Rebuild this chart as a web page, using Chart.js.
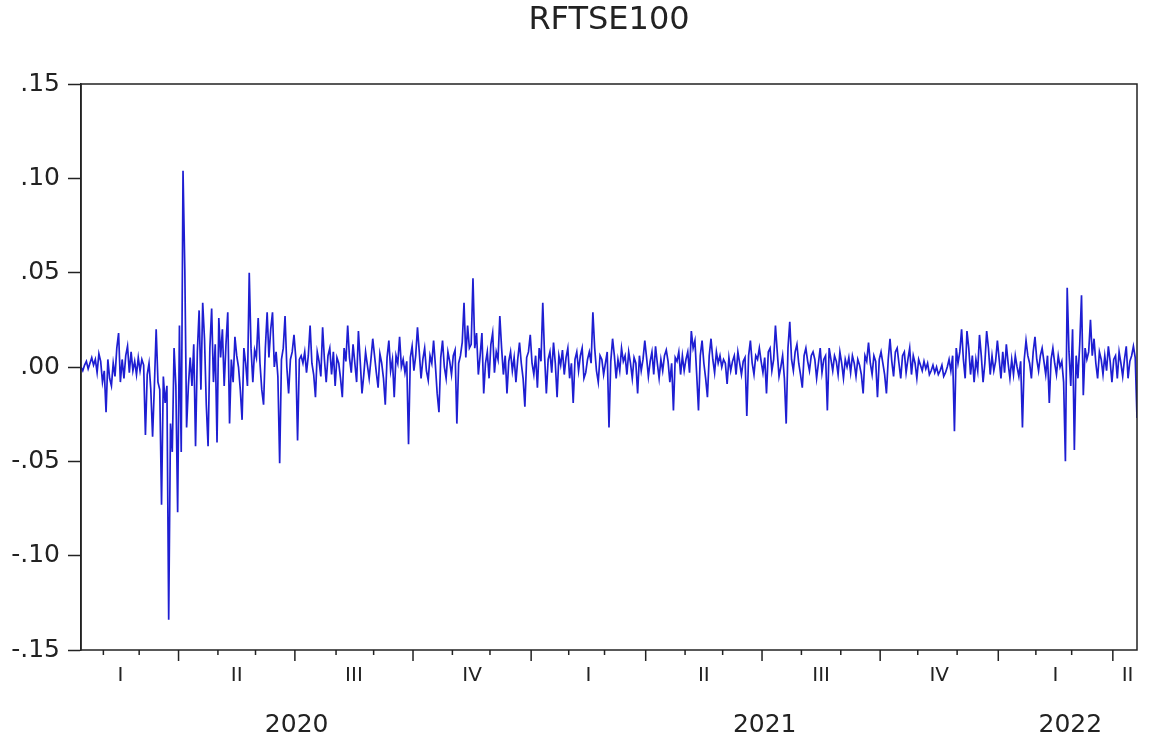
<!DOCTYPE html>
<html>
<head>
<meta charset="utf-8">
<title>RFTSE100</title>
<script src="https://cdn.jsdelivr.net/npm/chart.js@4/dist/chart.umd.min.js"></script>
<style>
  body { margin: 0; background: #fff; }
  #wrap { width: 1149px; height: 742px; }
</style>
</head>
<body>
<div id="wrap"><canvas id="rftse-chart"></canvas></div>
<script>
// daily returns (obs 0 = 15 Jan 2020, weekdays only)
const returns = [
    .000, -.002, .001, .003, -.001, .002, .005, .001, .004, -.003,
    .007, .003, -.008, -.002, -.024, .004, -.006, -.010, .002, -.005,
    .010, .018, -.008, .004, -.006, .006, .011, -.003, .008, -.002,
    .003, -.004, .005, -.002, .004, .001, -.036, -.004, .002, -.012,
    -.037, -.010, .020, -.008, -.012, -.073, -.005, -.019, -.010, -.134,
    -.030, -.045, .010, -.010, -.077, .022, -.045, .104, .052, -.032,
    -.010, .005, -.010, .012, -.042, .008, .030, -.012, .034, .015,
    -.020, -.042, .010, .031, -.008, .012, -.040, .026, .005, .020,
    -.010, .012, .029, -.030, .004, -.008, .016, .006, .000, -.012,
    -.028, .010, .002, -.010, .050, .010, -.008, .009, .005, .026,
    .002, -.012, -.020, .010, .029, .005, .020, .029, .000, .008,
    -.005, -.051, .004, .010, .027, .000, -.014, .004, .008, .017,
    .005, -.039, .004, .006, .002, .008, -.003, .006, .022, .002,
    -.004, -.016, .008, .003, -.005, .021, .004, -.008, .006, .010,
    -.004, .008, -.010, .005, .002, -.006, -.016, .010, .003, .022,
    .005, -.003, .012, .002, -.008, .019, .003, -.014, -.004, .008,
    .001, -.006, .004, .015, .006, -.003, -.011, .007, .002, -.006,
    -.020, .005, .014, -.002, .004, -.016, .006, .002, .016, .000,
    .004, -.003, .003, -.041, .005, .011, -.002, .006, .021, .008,
    -.006, .004, .010, -.002, -.007, .006, .002, .014, .001, -.014,
    -.024, .005, .014, .000, -.006, .008, .003, -.004, .006, .009,
    -.030, .002, .006, .013, .034, .005, .022, .010, .012, .047,
    .010, .018, -.004, .006, .018, -.014, .002, .008, -.006, .012,
    .018, -.003, .008, .004, .027, .010, -.004, .006, -.014, .003,
    .008, -.002, .005, -.008, .004, .013, .002, -.006, -.021, .005,
    .008, .017, .002, -.004, .006, -.011, .010, .003, .034, .006,
    -.014, .004, .008, -.003, .013, .002, -.016, .006, .001, .009,
    -.004, .005, .010, -.006, .002, -.019, .004, .008, -.002, .006,
    .010, -.006, -.003, .004, .008, .002, .029, .010, -.002, -.008,
    .006, .004, -.004, .002, .008, -.032, .003, .015, .006, -.006,
    .004, -.002, .010, .003, .006, -.004, .008, .002, -.006, .005,
    .002, -.014, .006, -.002, .004, .014, .005, -.005, .003, .008,
    -.004, .011, .002, -.006, .004, -.002, .006, .009, .003, -.008,
    .002, -.023, .005, .003, .008, -.004, .006, -.002, .004, .008,
    -.003, .019, .010, .014, -.004, -.023, .006, .014, .002, -.006,
    -.016, .006, .015, .004, -.003, .008, .002, .006, .000, .004,
    .002, -.009, .005, -.002, .003, .006, -.004, .008, .002, -.004,
    .003, .005, -.026, .006, .014, .002, -.004, .006, .004, .010,
    .003, -.003, .005, -.014, .008, .010, -.002, .004, .022, .008,
    -.005, .000, .006, -.006, -.030, .010, .024, .004, -.002, .008,
    .012, .002, -.004, -.011, .006, .010, .003, -.002, .006, .008,
    .004, -.006, .002, .010, -.003, .004, .006, -.023, .010, .004,
    -.002, .006, .003, -.004, .008, .002, -.006, .004, .000, .005,
    -.003, .006, .002, -.005, .004, .001, -.004, -.014, .006, .003,
    .013, .002, -.004, .006, .003, -.016, .004, .008, .002, -.004,
    -.014, .004, .015, .003, -.005, .008, .010, .002, -.006, .006,
    .008, -.003, .004, .010, -.004, .006, .002, -.006, .004, .001,
    -.002, .003, -.001, .002, -.004, -.002, .001, -.003, .000, -.004,
    -.002, .001, -.005, -.003, .000, .004, -.002, .006, -.034, .010,
    .002, .008, .020, .004, -.006, .019, .010, -.004, .006, -.008,
    .004, -.002, .017, .006, -.008, .002, .019, .010, -.004, .006,
    -.002, .003, .014, .004, -.006, .008, -.003, .012, .002, -.006,
    .004, -.004, .006, .000, -.005, .003, -.032, .004, .014, .006,
    .002, -.006, .008, .016, .004, -.002, .006, .010, .003, -.004,
    .006, -.019, .004, .010, .002, -.004, .006, .000, .003, -.008,
    -.050, .042, .008, -.010, .020, -.044, .006, -.006, .012, .038,
    -.015, .010, .004, .008, .025, .006, .015, .002, -.006, .008,
    .004, -.004, .006, -.002, .011, .003, -.008, .004, .006, -.006,
    .008, .002, -.005, .004, .011, -.006, .003, .006, .011, .005, -.027
];
const quarterNames = ["I", "II", "III", "IV"];
const firstDay = "2020-01-15";
const yTicks = [-.15, -.10, -.05, .00, .05, .10, .15];

// weekday calendar from 1 Jan 2020, used for the month / quarter / year marks
const days = [];
for (let d = new Date(Date.UTC(2020, 0, 1)); days.length < 700; d.setUTCDate(d.getUTCDate() + 1)) {
    const wd = d.getUTCDay();
    if (wd !== 0 && wd !== 6) days.push(new Date(d));
}
const offset = days.findIndex((d) => d.toISOString().slice(0, 10) === firstDay);
const lastObs = returns.length - 1;

const monthMarks = [{ pos: -offset - 0.5, month: 0, year: 2020 }];
for (let k = 1; k < days.length; k++) {
    if (days[k].getUTCMonth() !== days[k - 1].getUTCMonth()) {
        const pos = k - offset - 0.5;
        if (pos > lastObs) break;
        monthMarks.push({ pos: pos, month: days[k].getUTCMonth(), year: days[k].getUTCFullYear() });
    }
}

function segments(marks, nameOf) {
    return marks.map((m, i) => {
        const end = i + 1 < marks.length ? marks[i + 1].pos : lastObs + 3;
        return { value: (m.pos + end) / 2, label: nameOf(m) };
    });
}
const quarterTicks = segments(monthMarks.filter((m) => m.month % 3 === 0), (m) => quarterNames[m.month / 3]);
const yearTicks = segments(monthMarks.filter((m) => m.month === 0), (m) => String(m.year));

const frameAndMonths = {
    id: "frameAndMonths",
    afterDraw(chart) {
        const { ctx, chartArea: a, scales: { x } } = chart;
        ctx.save();
        ctx.strokeStyle = "#222";
        ctx.lineWidth = 1.5;
        ctx.strokeRect(a.left, a.top, a.right - a.left, a.bottom - a.top);
        ctx.beginPath();
        monthMarks.forEach((m) => {
            if (m.pos < 0) return;
            const px = x.getPixelForValue(m.pos);
            ctx.moveTo(px, a.bottom);
            ctx.lineTo(px, a.bottom + (m.month % 3 === 0 ? 11 : 5));
        });
        ctx.stroke();
        ctx.restore();
    }
};

const font = "'DejaVu Sans', 'Liberation Sans', sans-serif";

new Chart(document.getElementById("rftse-chart"), {
    type: "line",
    data: {
        datasets: [
            {
                label: "RFTSE100",
                data: returns.map((v, i) => ({ x: i, y: v })),
                borderColor: "#1e1ed2",
                borderWidth: 1.7,
                pointRadius: 0,
                tension: 0,
                fill: false,
            },
        ],
    },
    options: {
        responsive: true,
        maintainAspectRatio: false,
        animation: false,
        events: [],
        layout: { padding: { left: 0, right: 12, top: 0, bottom: 0 } },
        plugins: {
            legend: { display: false },
            tooltip: { enabled: false },
            title: {
                display: true,
                text: "RFTSE100",
                fullSize: false,
                color: "#222",
                font: { family: font, size: 32, weight: "normal" },
                padding: { top: 1, bottom: 44.6 },
            },
        },
        scales: {
            x: {
                type: "linear",
                min: 0,
                max: lastObs,
                afterBuildTicks: (scale) => {
                    scale.ticks = quarterTicks.map((t) => ({ value: t.value }));
                },
                afterFit: (scale) => { scale.height = 50; },
                grid: { drawOnChartArea: false, drawTicks: false },
                border: { display: false },
                ticks: {
                    autoSkip: false,
                    maxRotation: 0,
                    padding: 14,
                    color: "#222",
                    font: { family: font, size: 20 },
                    callback: (value, index) => quarterTicks[index].label,
                },
            },
            x2: {
                type: "linear",
                position: "bottom",
                min: 0,
                max: lastObs,
                afterBuildTicks: (scale) => {
                    scale.ticks = yearTicks.map((t) => ({ value: t.value }));
                },
                afterFit: (scale) => { scale.height = 42; },
                grid: { display: false },
                border: { display: false },
                ticks: {
                    autoSkip: false,
                    maxRotation: 0,
                    padding: 2,
                    color: "#222",
                    font: { family: font, size: 25 },
                    callback: (value, index) => yearTicks[index].label,
                },
            },
            y: {
                min: -.15,
                max: .15,
                afterBuildTicks: (scale) => {
                    scale.ticks = yTicks.map((v) => ({ value: v }));
                },
                afterFit: (scale) => { scale.width = 81; },
                grid: { drawOnChartArea: false, tickLength: 13, tickColor: "#222", tickWidth: 1.5 },
                border: { color: "#222", width: 1.5 },
                ticks: {
                    padding: 8,
                    color: "#222",
                    font: { family: font, size: 25 },
                    callback: (value) => value.toFixed(2).replace("0.", "."),
                },
            },
        },
    },
    plugins: [frameAndMonths],
});
</script>
</body>
</html>
